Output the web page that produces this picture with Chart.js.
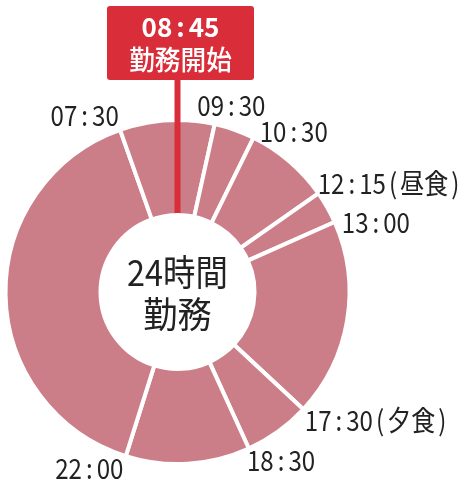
<!DOCTYPE html>
<html>
<head>
<meta charset="utf-8">
<script src="https://cdn.jsdelivr.net/npm/chart.js@4"></script>
<style>
  html, body { margin: 0; padding: 0; background: #ffffff; }
  #wrap { width: 459px; height: 479px; position: relative; }
</style>
</head>
<body>
<div id="wrap"><canvas id="c" width="459" height="479"></canvas></div>
<script>
// ---- data ----
// segments of the 24h day, starting at the 08:45 start marker (clockwise)
const segmentNames = ['08:45-09:30', '09:30-10:30', '10:30-12:15', '12:15-13:00', '13:00-17:30', '17:30-18:30', '18:30-22:00', '22:00-07:30', '07:30-08:45'];
// arc sizes in minutes as drawn in the reference (sum = 1440)
const segmentMinutes = [50, 55, 115, 44, 268, 90, 168, 572, 78];
// label at the start boundary of each segment (first one is the callout)
const boundaryLabels = ['08:45', '09:30', '10:30', '12:15(昼食)', '13:00', '17:30(夕食)', '18:30', '22:00', '07:30'];
const calloutTitle = '08:45';
const calloutSub = '勤務開始';
const centerLines = ['24時間', '勤務'];

// ---- styling ----
const FILL = '#cc7e88';
const RED = '#d92d39';
const TEXT = '#222222';
const FONT = '"Noto Sans CJK JP", "Noto Sans", sans-serif';

// label placement relative to the outer boundary point (style, not data)
const labelPlace = [
  null,
  { align: 'left', dx: -17, dy: -21 },
  { align: 'left', dx: 7, dy: -8 },
  { align: 'left', dx: 1, dy: -11 },
  { align: 'left', dx: 9, dy: 0 },
  { align: 'left', dx: 3, dy: 12 },
  { align: 'left', dx: -1, dy: 14 },
  { align: 'right', dx: -3, dy: 14 },
  { align: 'right', dx: -2, dy: -16 }
];
// extra spacing (px) before/after certain glyphs
const GAPS = { ':': [4, 4], '(': [3, 3], ')': [3, 0] };

function drawSpaced(ctx, text, x, y, sx, align, gaps) {
  ctx.save();
  ctx.textAlign = 'left';
  const chars = Array.from(text);
  const parts = [];
  let w = 0;
  chars.forEach((ch) => {
    const g = gaps[ch] || [0, 0];
    w += g[0];
    parts.push([ch, w]);
    w += ctx.measureText(ch).width * sx + g[1];
  });
  let x0 = x;
  if (align === 'center') x0 = x - w / 2;
  else if (align === 'right') x0 = x - w;
  parts.forEach(([ch, off]) => {
    ctx.save();
    ctx.translate(x0 + off, y);
    ctx.scale(sx, 1);
    ctx.fillText(ch, 0, 0);
    ctx.restore();
  });
  ctx.restore();
}

const overlay = {
  id: 'overlay',
  afterDatasetsDraw(chart) {
    const ctx = chart.ctx;
    const arcs = chart.getDatasetMeta(0).data;
    const a0 = arcs[0];
    const cx = a0.x, cy = a0.y;
    const rOut = a0.outerRadius - 2;
    const rIn = a0.innerRadius + 2;

    // red marker line
    const ang0 = a0.startAngle;
    ctx.save();
    ctx.strokeStyle = RED;
    ctx.lineWidth = 6;
    ctx.beginPath();
    ctx.moveTo(cx + Math.cos(ang0) * rIn, cy + Math.sin(ang0) * rIn);
    ctx.lineTo(cx + Math.cos(ang0) * (rOut + 50), 78);
    ctx.stroke();

    // callout box
    const bx = 107, by = 6, bw = 147, bh = 74, br = 3;
    ctx.fillStyle = RED;
    ctx.beginPath();
    ctx.moveTo(bx + br, by);
    ctx.lineTo(bx + bw - br, by);
    ctx.quadraticCurveTo(bx + bw, by, bx + bw, by + br);
    ctx.lineTo(bx + bw, by + bh - br);
    ctx.quadraticCurveTo(bx + bw, by + bh, bx + bw - br, by + bh);
    ctx.lineTo(bx + br, by + bh);
    ctx.quadraticCurveTo(bx, by + bh, bx, by + bh - br);
    ctx.lineTo(bx, by + br);
    ctx.quadraticCurveTo(bx, by, bx + br, by);
    ctx.fill();
    ctx.fillStyle = '#ffffff';
    ctx.textBaseline = 'middle';
    ctx.font = 'bold 26px ' + FONT;
    drawSpaced(ctx, calloutTitle, bx + bw / 2, 27, 1.0, 'center', { ':': [4, 4] });
    ctx.font = '500 27px ' + FONT;
    drawSpaced(ctx, calloutSub, bx + bw / 2, 60, 0.95, 'center', {});

    // center text
    ctx.fillStyle = TEXT;
    ctx.font = '36px ' + FONT;
    drawSpaced(ctx, centerLines[0], cx, cy - 20, 0.9, 'center', {});
    drawSpaced(ctx, centerLines[1], cx, cy + 22, 0.95, 'center', {});

    // boundary labels
    ctx.font = '28px ' + FONT;
    for (let i = 1; i < arcs.length; i++) {
      const a = arcs[i].startAngle;
      const px = cx + Math.cos(a) * rOut;
      const py = cy + Math.sin(a) * rOut;
      const p = labelPlace[i];
      drawSpaced(ctx, boundaryLabels[i], px + p.dx, py + p.dy, 0.86, p.align, GAPS);
    }
    ctx.restore();
  }
};

new Chart(document.getElementById('c'), {
  type: 'doughnut',
  data: {
    labels: segmentNames,
    datasets: [{
      data: segmentMinutes,
      backgroundColor: FILL,
      borderColor: '#ffffff',
      borderWidth: 4,
      hoverOffset: 0
    }]
  },
  options: {
    responsive: false,
    animation: false,
    rotation: 0,
    cutout: 77,
    layout: { padding: { left: 3.5, right: 107.5, top: 118, bottom: 13 } },
    plugins: { legend: { display: false }, tooltip: { enabled: false } },
    events: []
  },
  plugins: [overlay]
});
</script>
</body>
</html>
